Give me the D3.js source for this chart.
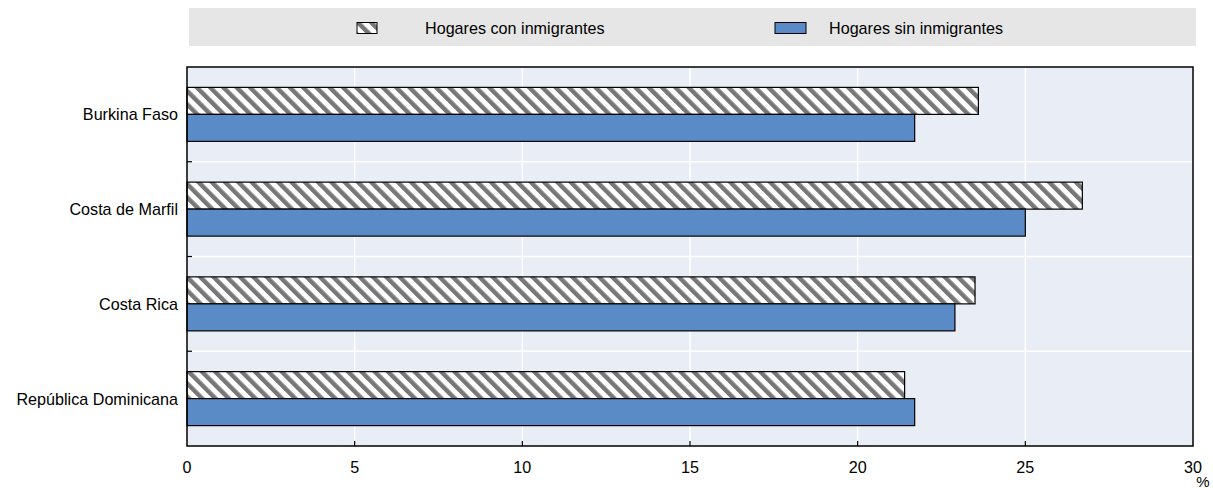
<!DOCTYPE html>
<html><head><meta charset="utf-8">
<script src="https://cdn.jsdelivr.net/npm/d3@7"></script>
<style>
body{margin:0;background:#fff;}
text{font-family:"Liberation Sans","Arial",sans-serif;font-size:17px;fill:#000;}
</style></head>
<body>
<svg id="chart" width="1213" height="492"></svg>
<script>
const categories = ["Burkina Faso","Costa de Marfil","Costa Rica","República Dominicana"];
const seriesNames = ["Hogares con inmigrantes","Hogares sin inmigrantes"];
const conInmigrantes = [23.6, 26.7, 23.5, 21.4];
const sinInmigrantes = [21.7, 25.0, 22.9, 21.7];
const xTicks = [0,5,10,15,20,25,30];

const svg = d3.select("#chart");
const m = {left:187, right:1193, top:67, bottom:446};
const SX = 0.95;

function label(sel, xx, yy, txt, anchor){
  return sel.append("text").attr("transform",`translate(${xx},${yy}) scale(${SX},1)`)
    .attr("dy","0.35em").attr("text-anchor",anchor||"start").text(txt);
}

const defs = svg.append("defs");
const pat = defs.append("pattern").attr("id","hatch").attr("patternUnits","userSpaceOnUse")
  .attr("width",9.4).attr("height",9.4).attr("patternTransform","rotate(-45)");
pat.append("rect").attr("width",9.4).attr("height",9.4).attr("fill","#fff");
pat.append("rect").attr("x",0).attr("width",4.4).attr("height",9.4).attr("fill","#777");

const x = d3.scaleLinear().domain([0,30]).range([m.left,m.right]);
const y = d3.scaleBand().domain(categories).range([m.top,m.bottom]);
const barH = 27;

// legend
svg.append("rect").attr("x",189).attr("y",8).attr("width",1007).attr("height",38).attr("fill","#e6e6e6");
const leg = [{x:357,w:20,fill:"url(#hatch)",tx:425},{x:775,w:31,fill:"#5b8bc7",tx:829}];
leg.forEach((l,i)=>{
  svg.append("rect").attr("x",l.x).attr("y",22.5).attr("width",l.w).attr("height",11)
    .attr("fill",l.fill).attr("stroke","#000").attr("stroke-width",1);
  label(svg, l.tx, 28, seriesNames[i]);
});

// plot bg
svg.append("rect").attr("x",m.left).attr("y",m.top).attr("width",m.right-m.left).attr("height",m.bottom-m.top).attr("fill","#e9edf6");

// grid
svg.append("g").selectAll("line").data(xTicks.slice(1,-1)).join("line")
  .attr("x1",d=>x(d)).attr("x2",d=>x(d)).attr("y1",m.top).attr("y2",m.bottom)
  .attr("stroke","#fff").attr("stroke-width",1.5);
const bounds = categories.slice(1).map(c=>y(c));
svg.append("g").selectAll("line").data(bounds).join("line")
  .attr("x1",m.left).attr("x2",m.right).attr("y1",d=>d).attr("y2",d=>d)
  .attr("stroke","#fff").attr("stroke-width",1.5);

// bars
const g = svg.append("g");
categories.forEach((c,i)=>{
  const cy = y(c)+y.bandwidth()/2;
  g.append("rect").attr("x",x(0)).attr("y",cy-barH).attr("width",x(conInmigrantes[i])-x(0)).attr("height",barH)
    .attr("fill","url(#hatch)").attr("stroke","#000").attr("stroke-width",1.2);
  g.append("rect").attr("x",x(0)).attr("y",cy).attr("width",x(sinInmigrantes[i])-x(0)).attr("height",barH)
    .attr("fill","#5b8bc7").attr("stroke","#000").attr("stroke-width",1.2);
});

// ticks
svg.append("g").selectAll("line").data(bounds).join("line")
  .attr("x1",m.left).attr("x2",m.left+5).attr("y1",d=>d).attr("y2",d=>d).attr("stroke","#000").attr("stroke-width",1.2);
svg.append("g").selectAll("line").data(xTicks.slice(1,-1)).join("line")
  .attr("x1",d=>x(d)).attr("x2",d=>x(d)).attr("y1",m.bottom).attr("y2",m.bottom-5).attr("stroke","#000").attr("stroke-width",1.2);

// border
svg.append("rect").attr("x",m.left).attr("y",m.top).attr("width",m.right-m.left).attr("height",m.bottom-m.top)
  .attr("fill","none").attr("stroke","#000").attr("stroke-width",1.5);

// labels
const lg = svg.append("g");
categories.forEach(c=>label(lg, 178, y(c)+y.bandwidth()/2, c, "end"));
const tg = svg.append("g");
xTicks.forEach(t=>label(tg, x(t), 467, String(t), "middle"));
svg.append("text").attr("x",1203).attr("y",482).attr("dy","0.35em").attr("text-anchor","middle")
  .style("font-size","15px").text("%");
</script>
</body></html>
